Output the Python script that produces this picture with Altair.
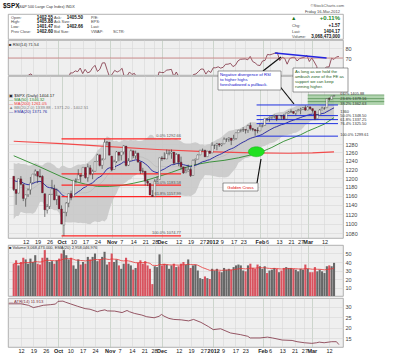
import altair as alt
import pandas as pd

# ---------------- data ----------------
opens = [1203.90, 1173.97, 1165.85, 1197.98, 1185.37, 1153.50, 1162.59, 1173.32, 1189.44, 1209.21,
         1214.99, 1204.50, 1203.63, 1164.55, 1128.82, 1136.91, 1163.32, 1175.39, 1151.74, 1159.93,
         1131.21, 1097.42, 1124.03, 1144.11, 1165.03, 1158.15, 1194.60, 1196.19, 1206.96, 1205.65,
         1224.47, 1200.75, 1223.46, 1209.92, 1215.39, 1238.72, 1254.19, 1229.17, 1243.97, 1284.39,
         1284.96, 1251.00, 1219.62, 1238.25, 1260.82, 1253.21, 1261.12, 1275.18, 1229.59, 1240.12,
         1263.85, 1251.70, 1257.81, 1236.56, 1216.19, 1215.62, 1192.98, 1187.48, 1161.41, 1158.67,
         1192.56, 1196.72, 1246.91, 1246.03, 1244.33, 1257.19, 1258.14, 1260.87, 1234.48, 1255.05,
         1236.83, 1225.73, 1212.12, 1216.09, 1219.74, 1205.72, 1241.25, 1243.72, 1254.00, 1265.02,
         1265.38, 1249.75, 1262.82, 1258.86, 1277.03, 1277.30, 1280.93, 1277.83, 1280.77, 1292.02,
         1292.48, 1294.82, 1290.22, 1293.65, 1308.07, 1314.49, 1315.29, 1315.96, 1314.40, 1326.28,
         1318.25, 1316.16, 1313.53, 1312.45, 1324.24, 1326.21, 1344.32, 1344.33, 1347.04, 1349.97,
         1351.21, 1343.06, 1351.30, 1350.52, 1342.61, 1358.06, 1361.22, 1362.11, 1357.53, 1363.46,
         1365.20, 1367.56, 1372.20, 1365.90, 1374.09, 1369.59, 1363.63, 1343.39, 1352.65, 1365.97,
         1370.78, 1371.92, 1395.95, 1394.17, 1402.55]
highs = [1203.90, 1173.97, 1198.62, 1204.40, 1185.37, 1162.52, 1176.41, 1202.38, 1209.11, 1220.06,
         1214.99, 1220.39, 1206.30, 1164.55, 1141.72, 1164.19, 1195.86, 1184.71, 1175.87, 1159.93,
         1138.99, 1125.12, 1146.07, 1165.55, 1171.40, 1194.91, 1199.24, 1220.25, 1207.46, 1224.61,
         1224.47, 1233.10, 1229.64, 1219.36, 1239.03, 1256.55, 1254.19, 1246.28, 1292.66, 1287.08,
         1284.96, 1251.00, 1242.48, 1263.21, 1260.82, 1261.70, 1277.55, 1275.18, 1246.22, 1266.98,
         1263.85, 1264.25, 1259.61, 1237.73, 1223.51, 1215.62, 1196.81, 1187.48, 1172.66, 1197.35,
         1203.67, 1247.11, 1251.09, 1260.08, 1266.73, 1266.03, 1267.06, 1260.87, 1258.25, 1255.05,
         1249.86, 1225.73, 1225.60, 1231.04, 1224.57, 1242.82, 1245.09, 1255.22, 1265.42, 1269.37,
         1265.85, 1263.54, 1264.12, 1284.62, 1278.73, 1283.05, 1281.84, 1281.99, 1296.46, 1293.80,
         1296.82, 1294.82, 1303.00, 1308.11, 1315.49, 1315.38, 1322.28, 1315.96, 1328.30, 1333.47,
         1320.06, 1316.16, 1321.41, 1330.52, 1329.19, 1345.34, 1344.36, 1349.24, 1351.00, 1354.32,
         1351.21, 1353.35, 1351.30, 1355.87, 1359.02, 1363.40, 1367.76, 1362.70, 1364.24, 1368.92,
         1371.94, 1373.09, 1378.04, 1376.17, 1374.53, 1369.59, 1363.63, 1354.85, 1368.72, 1374.76,
         1373.04, 1396.13, 1399.42, 1402.63, 1405.88]
lows = [1170.60, 1140.13, 1165.85, 1183.34, 1148.37, 1136.07, 1157.44, 1162.73, 1189.44, 1204.46,
        1188.36, 1201.29, 1166.21, 1114.22, 1121.36, 1131.07, 1163.32, 1150.40, 1139.93, 1131.34,
        1098.92, 1074.77, 1115.68, 1134.95, 1150.26, 1158.15, 1187.30, 1196.19, 1190.58, 1205.65,
        1198.55, 1191.48, 1206.31, 1197.34, 1215.39, 1238.72, 1226.79, 1221.06, 1243.97, 1277.01,
        1253.16, 1215.42, 1219.62, 1234.81, 1238.92, 1240.75, 1254.99, 1226.64, 1227.70, 1240.12,
        1246.68, 1244.34, 1235.67, 1209.43, 1211.36, 1183.16, 1181.65, 1161.79, 1158.66, 1158.67,
        1191.80, 1196.72, 1239.73, 1243.35, 1244.33, 1253.03, 1244.80, 1231.47, 1234.48, 1227.25,
        1219.43, 1209.47, 1212.12, 1215.20, 1202.37, 1205.72, 1229.51, 1243.72, 1254.00, 1262.30,
        1248.64, 1249.75, 1257.46, 1258.86, 1268.10, 1265.26, 1273.34, 1274.55, 1280.77, 1285.41,
        1285.77, 1277.58, 1290.22, 1290.99, 1308.07, 1309.17, 1309.89, 1306.06, 1307.65, 1313.60,
        1311.72, 1300.49, 1306.69, 1312.45, 1321.57, 1326.21, 1337.52, 1335.92, 1341.95, 1344.63,
        1337.35, 1343.06, 1340.83, 1340.80, 1341.22, 1357.24, 1358.11, 1355.53, 1352.28, 1363.46,
        1354.92, 1365.97, 1363.81, 1365.90, 1366.42, 1359.13, 1340.03, 1343.39, 1352.65, 1365.97,
        1366.69, 1371.92, 1389.97, 1394.17, 1401.47]
closes = [1173.97, 1165.24, 1198.62, 1185.90, 1154.23, 1162.27, 1172.87, 1188.68, 1209.11, 1216.01,
          1204.09, 1202.09, 1166.76, 1129.56, 1136.43, 1162.95, 1175.38, 1151.06, 1160.40, 1131.42,
          1099.23, 1123.95, 1144.03, 1164.97, 1155.46, 1194.89, 1195.54, 1207.25, 1203.66, 1224.58,
          1200.86, 1225.38, 1209.88, 1215.39, 1238.25, 1254.19, 1229.05, 1242.00, 1284.59, 1285.09,
          1253.30, 1218.28, 1237.90, 1261.15, 1253.23, 1261.12, 1275.92, 1229.10, 1239.69, 1263.85,
          1251.78, 1257.81, 1236.91, 1216.13, 1215.65, 1192.98, 1188.04, 1161.79, 1158.67, 1192.55,
          1195.19, 1246.96, 1244.58, 1244.28, 1257.08, 1258.47, 1261.01, 1234.35, 1255.19, 1236.47,
          1225.73, 1211.82, 1215.75, 1219.66, 1205.35, 1241.30, 1243.72, 1254.00, 1265.33, 1265.43,
          1249.64, 1263.02, 1257.60, 1277.06, 1277.30, 1281.06, 1277.81, 1280.70, 1292.08, 1292.48,
          1295.50, 1289.09, 1293.67, 1308.04, 1314.50, 1315.38, 1316.00, 1314.65, 1326.06, 1318.43,
          1316.33, 1313.01, 1312.41, 1324.09, 1325.54, 1344.90, 1344.33, 1347.05, 1349.96, 1351.95,
          1342.64, 1351.77, 1350.50, 1343.23, 1358.04, 1361.23, 1362.21, 1357.66, 1363.46, 1365.74,
          1367.59, 1372.18, 1365.68, 1374.09, 1369.63, 1364.33, 1343.36, 1352.63, 1365.91, 1370.87,
          1371.09, 1395.95, 1394.28, 1402.60, 1404.17]
# volume in hundred-millions of shares (bar heights)
volumes = [38, 42, 36, 40, 45, 43, 38, 44, 40, 48,
           38, 37, 45, 54, 45, 40, 41, 38, 42, 44,
           50, 54, 48, 43, 45, 36, 32, 43, 37, 40,
           38, 46, 43, 46, 50, 41, 43, 46, 52, 37,
           40, 50, 40, 43, 36, 32, 38, 45, 38, 36,
           31, 33, 39, 42, 38, 41, 36, 32, 14, 35,
           34, 49, 36, 38, 37, 32, 36, 38, 34, 35,
           38, 40, 37, 43, 33, 36, 37, 30, 21, 20,
           23, 21, 20, 32, 30, 32, 29, 28, 33, 31,
           32, 31, 34, 36, 37, 36, 30, 29, 36, 38,
           33, 32, 37, 35, 32, 35, 27, 30, 31, 33,
           32, 28, 30, 33, 34, 33, 33, 32, 31, 29,
           32, 31, 37, 32, 28, 28, 34, 29, 31, 29,
           27, 35, 36, 35, 39]
# closes before the first bar, only used to start the 20-day bands / EMA / RSI
warm_closes = [1339.67, 1337.88, 1339.22, 1353.22, 1343.80, 1319.49, 1313.64, 1317.72, 1308.87, 1316.14,
               1305.44, 1326.73, 1325.84, 1343.80, 1345.02, 1337.43, 1331.94, 1304.89, 1300.67, 1292.28,
               1286.94, 1254.05, 1260.34, 1200.07, 1199.38, 1119.46, 1172.53, 1120.76, 1172.64, 1178.81,
               1204.49, 1192.76, 1193.89, 1140.65, 1123.53, 1123.82, 1162.35, 1177.60, 1159.27, 1176.80,
               1210.08, 1212.92, 1218.89, 1204.42]

ma50_idx = [0, 10, 20, 25, 30, 35, 40, 45, 50, 55, 61, 66, 71, 76, 82, 88, 94, 100, 104, 108, 113, 120, 123, 127, 130, 134]
ma50_val = [1252, 1228, 1203, 1193, 1186, 1181, 1181, 1183, 1188, 1194, 1204, 1213, 1223, 1231, 1237, 1241, 1247,
            1255, 1262, 1272, 1287, 1303, 1312, 1322, 1330, 1346.32]
ma200_idx = [0, 20, 40, 60, 80, 100, 115, 125, 134]
ma200_val = [1287, 1281, 1274, 1267, 1262, 1259, 1258, 1259, 1261.05]

atr_idx = [0, 5, 8, 10, 12, 14, 17, 19, 20, 22, 23, 25, 28, 31, 33, 35, 36, 37, 39, 40, 43, 46, 48, 49, 51, 54,
           56, 59, 61, 62, 63, 65, 67, 70, 73, 75, 78, 81, 83, 86, 90, 94, 97, 98, 102, 105, 107, 111, 115, 117,
           120, 123, 125, 126, 128, 131, 133, 134]
atr_val = [31.5, 31.5, 30.8, 29.7, 30.2, 30.8, 31.1, 31.4, 32.7, 32.8, 32.3, 31.5, 30.3, 29.2, 28.9, 28.1, 27.7,
           28.1, 28.6, 28.1, 28.0, 27.3, 28.3, 27.7, 26.9, 26.1, 25.3, 24.8, 25.5, 26.4, 25.6, 24.5, 24.0, 23.8,
           23.3, 24.0, 22.6, 20.6, 19.1, 19.5, 17.5, 16.7, 15.9, 15.1, 15.1, 15.5, 15.1, 14.1, 13.9, 13.3, 12.8,
           12.5, 12.8, 13.1, 12.8, 13.3, 13.3, 11.91]

tick_idx = [5, 10, 15, 20, 25, 30, 35, 41, 45, 50, 55, 59, 62, 69, 74, 79, 83, 87, 92, 96, 103, 106, 111, 116, 120, 123, 130]
tick_lbl = ["12", "19", "26", "Oct", "10", "17", "24", "Nov", "7", "14", "21", "28", "Dec", "12", "19", "27",
            "2012", "9", "17", "23", "Feb", "6", "13", "21", "27", "Mar", "12"]
month_idx = [20, 41, 62, 83, 103, 123]

price_ticks = [1080, 1100, 1120, 1140, 1160, 1180, 1200, 1220, 1240, 1260, 1280]
red_fib_lbl = ["0.0% 1292.66", "38.2% 1209.43", "50.0% 1183.58", "61.8% 1157.99", "100.0% 1074.77"]
red_fib_val = [1292.66, 1209.43, 1183.72, 1157.99, 1074.77]
red_fib_show = [True, False, True, True, True]
blue_fib_val = [1379.16, 1351.5, 1341.2, 1331.0, 1299.61]
zone_val = [1405.88, 1396.0, 1388.0]
# labels stacked at the right edge of the price panel (text, label price position)
side_lbl = ["0.0% 1405.88", "23.6% 1379.16", "38.2% 1362.63", "1360", "50.0% 1348.50", "61.8% 1337.25",
            "76.4% 1325.50", "100.0% 1299.61"]
side_pos = [1408.5, 1395.5, 1382.5, 1361.5, 1351.5, 1340.5, 1329.5, 1302.0]

# ---------------- derived indicators ----------------
N = len(closes)
K = len(warm_closes)
allc = pd.Series(warm_closes + closes, dtype=float)
sma20 = allc.rolling(20).mean().iloc[K:].to_numpy()
sd20 = allc.rolling(20).std(ddof=0).iloc[K:].to_numpy()
ema20 = allc.ewm(span=20, adjust=False).mean().iloc[K:].to_numpy()
dlt = allc.diff()
ag = dlt.clip(lower=0).ewm(alpha=1 / 14, adjust=False).mean()
al = (-dlt.clip(upper=0)).ewm(alpha=1 / 14, adjust=False).mean()
rsi = (100 - 100 / (1 + ag / al)).iloc[K:].to_numpy()
prev = [warm_closes[-1]] + closes[:-1]

df = pd.DataFrame({"i": list(range(N)), "o": opens, "h": highs, "l": lows, "c": closes, "v": volumes,
                   "ema": ema20, "bbu": sma20 + 2 * sd20, "bbl": sma20 - 2 * sd20, "bbm": sma20, "rsi": rsi})
df["body"] = ["up" if c >= o else "dn" for o, c in zip(opens, closes)]
df["vdir"] = ["up" if c >= p else "dn" for c, p in zip(closes, prev)]
df["vma"] = pd.Series(volumes, dtype=float).ewm(span=20, adjust=False).mean()

ma50 = pd.DataFrame({"i": ma50_idx, "m": ma50_val})
ma200 = pd.DataFrame({"i": ma200_idx, "m": ma200_val})
atr = pd.DataFrame({"i": atr_idx, "a": atr_val})

# ---------------- layout constants ----------------
W, H_HDR, H_RSI, H_MAIN, H_VOL, H_ATR = 335, 25, 35, 162, 51, 49
XDOM = [-0.3, 135.66]
FONT = "Liberation Sans"
ONE = pd.DataFrame({"k": [0]})

lbl_expr = "".join(f"datum.value=={i}?'{t}':" for i, t in zip(tick_idx, tick_lbl)) + "''"
month_test = "indexof([" + ",".join(map(str, month_idx)) + "], datum.value) >= 0"
XS = alt.Scale(domain=XDOM, nice=False, zero=False)


def xaxis(labels):
    return alt.Axis(values=tick_idx, labelExpr=lbl_expr, labels=labels, ticks=False, domain=False, grid=True,
                    gridColor={"condition": {"test": month_test, "value": "#b4c2b4"}, "value": "#d6d6d6"},
                    gridWidth=0.6, labelFont=FONT, labelFontSize=5.5, labelColor="#222",
                    labelFontWeight={"condition": {"test": month_test, "value": "bold"}, "value": "normal"},
                    labelPadding=1.5, labelOverlap=False, labelFlush=False, title=None)


def yaxis(vals):
    return alt.Axis(orient="right", values=vals, format="d", ticks=False, domain=False, grid=True,
                    gridColor="#d6d6d6", gridWidth=0.6, labelPadding=2, title=None,
                    labelFont=FONT, labelFontSize=5.5, labelColor="#444", labelOverlap=False)


def enc_factory(yscale, yvals, xlabels=False):
    xa = xaxis(xlabels)
    ya = yaxis(yvals)

    def XE(field="i"):
        return alt.X(f"{field}:Q", scale=XS, axis=xa)

    def YE(field):
        return alt.Y(f"{field}:Q", scale=yscale, axis=ya)
    return XE, YE


def px_text(rows, size=4.2, color="#333", weight="normal", align="left"):
    layers = []
    for x, y, t in rows:
        layers.append(alt.Chart(ONE).mark_text(text=t, align=align, baseline="alphabetic", font=FONT,
                                               fontSize=size, color=color, fontWeight=weight, clip=False).encode(
            x=alt.value(x), y=alt.value(y)))
    return alt.layer(*layers)


def px_rule(x1, y1, x2, y2, color="#000", w=1.0):
    return alt.Chart(ONE).mark_rule(color=color, strokeWidth=w, clip=False).encode(
        x=alt.value(x1), y=alt.value(y1), x2=alt.value(x2), y2=alt.value(y2))


def px_box(x1, y1, x2, y2, fill="white", stroke="#555", w=0.6):
    return alt.Chart(ONE).mark_rect(fill=fill, stroke=stroke, strokeWidth=w, clip=False).encode(
        x=alt.value(x1), y=alt.value(y1), x2=alt.value(x2), y2=alt.value(y2))


PANEL_VIEW = alt.ViewBackground(fill="#efefef", stroke="#a0a0a0", strokeWidth=0.8)


def spacer(h):
    return alt.Chart(ONE).mark_point(opacity=0).encode(x=alt.value(0), y=alt.value(0)).properties(
        width=W, height=h, view=alt.ViewBackground(fill="transparent", stroke="transparent"))


# ---------------- header ----------------
hdr = alt.layer(
    px_text([[-5, -6, "$SPX"]], size=6.5, color="#111", weight="bold"),
    px_text([[10, -6.3, "(S&P 500 Large Cap Index) INDX"]], size=3.8, color="#333"),
    px_text([[336, -7.5, "\u00a9StockCharts.com"]], size=4.0, color="#555", align="right"),
    px_text([[3, 4.5, "Open:"], [3, 9.2, "High:"], [3, 13.8, "Low:"], [3, 18.5, "Prev Close:"],
             [46, 4.5, "Ask:"], [46, 9.2, "Ask Size:"], [46, 13.8, "Bid:"], [46, 18.5, "Bid Size:"],
             [83, 4.5, "P/E:"], [83, 9.2, "EPS:"], [83, 13.8, "Last:"], [83, 18.5, "VWAP:"], [105, 18.5, "SCTR:"],
             [284, 12.5, "Chg:"], [284, 18.5, "Last:"], [284, 24.0, "Volume:"]], size=3.9, color="#444"),
    px_text([[45, 4.5, "1402.55"], [45, 9.2, "1405.88"], [45, 13.8, "1401.47"], [45, 18.5, "1402.60"],
             [75, 4.5, "1405.50"], [75, 13.8, "1402.66"],
             [332, 12.5, "+1.57"], [332, 18.5, "1404.17"], [332, 24.0, "3,068,473,000"]],
            size=4.5, color="#111", weight="bold", align="right"),
    px_text([[332, -1.5, "Friday 16-Mar-2012"]], size=4.0, color="#444", align="right"),
    px_text([[332, 5.5, "+0.11%"]], size=6.0, color="#1f8a1f", weight="bold", align="right"),
    px_text([[283, 6.0, "\u25b2"]], size=5.5, color="#1f7a1f", align="left"),
).properties(width=W, height=H_HDR, view=alt.ViewBackground(fill="white", stroke="#a0a0a0", strokeWidth=0.8))

# ---------------- RSI panel ----------------
RSI_S = alt.Scale(domain=[53, 88], nice=False, zero=False)
XR, YR = enc_factory(RSI_S, [70, 80])
rsi_base = alt.Chart(df).mark_line(color="#7d2e40", strokeWidth=0.8, clip=True).encode(x=XR(), y=YR("rsi"))
rsi_70 = alt.Chart(pd.DataFrame({"i": [0], "r": [70]})).mark_rule(color="#c87878", strokeWidth=0.8).encode(
    y=YR("r"))
div_line = alt.Chart(pd.DataFrame({"i": [108], "i2": [129], "r": [75.0], "r2": [70.0]})).mark_rule(
    color="#2424e0", strokeWidth=1.3).encode(x=XR("i"), x2="i2:Q", y=YR("r"), y2="r2:Q")
rsi_lbl = px_text([[1, 5.5, "\u25a0 RSI(14) 71.54"]], size=4.2, color="#333")
rsi_panel = alt.layer(rsi_base, rsi_70, div_line, rsi_lbl).properties(width=W, height=H_RSI, view=PANEL_VIEW)

# ---------------- main price panel ----------------
YS = alt.Scale(type="log", domain=[1070.4, 1457.4], nice=False, zero=False)
XM, YM = enc_factory(YS, price_ticks, True)

bb = alt.Chart(df).mark_area(color="#c9c9c9", opacity=0.9).encode(x=XM(), y=YM("bbl"), y2="bbu:Q")
bbm = alt.Chart(df).mark_line(color="#b2b2b2", strokeWidth=0.5).encode(x=XM(), y=YM("bbm"))

zone = alt.Chart(pd.DataFrame({"i": [123], "i2": [155], "p": [1379.16], "p2": [1405.88]})).mark_rect(
    fill="#9dc99b", opacity=0.8, clip=False).encode(x=XM("i"), x2="i2:Q", y=YM("p"), y2="p2:Q")
zone_lines = alt.Chart(pd.DataFrame({"i": [123] * 3, "i2": [155] * 3, "p": zone_val})).mark_rule(
    color="#3f7f3f", strokeWidth=0.6, clip=False).encode(x=XM("i"), x2="i2:Q", y=YM("p"))

l_ma200 = alt.Chart(ma200).mark_line(color="#f24a4a", strokeWidth=1.2).encode(x=XM("i"), y=YM("m"))
l_ma50 = alt.Chart(ma50).mark_line(color="#2e8b2e", strokeWidth=0.9).encode(x=XM("i"), y=YM("m"))
l_ema = alt.Chart(df).mark_line(color="#22229e", strokeWidth=0.9).encode(x=XM("i"), y=YM("ema"))

rf = pd.DataFrame({"i": [20] * 5, "i2": [70] * 5, "p": red_fib_val, "t": red_fib_lbl, "s": red_fib_show})
red_rules = alt.Chart(rf).mark_rule(color="#ff2626", strokeWidth=1.2).encode(x=XM("i"), x2="i2:Q", y=YM("p"))
red_text = alt.Chart(rf[rf.s]).mark_text(align="right", dy=-2.5, font=FONT, fontSize=4.0, color="#555").encode(
    x=XM("i2"), y=YM("p"), text="t:N")

bf = pd.DataFrame({"i": [101.6] * 5, "i2": [135.66] * 5, "p": blue_fib_val})
blue_rules = alt.Chart(bf).mark_rule(color="#1f30e0", strokeWidth=1.0).encode(x=XM("i"), x2="i2:Q", y=YM("p"))
sf = pd.DataFrame({"ix": [136.6] * len(side_lbl), "p": side_pos, "t": side_lbl})
side_text = alt.Chart(sf).mark_text(align="left", baseline="middle", font=FONT, fontSize=3.9, color="#333",
                                    clip=False).encode(x=XM("ix"), y=YM("p"), text="t:N")

wick = alt.Chart(df).mark_rule(color="#2c2c2c", strokeWidth=0.6).encode(x=XM("i"), y=YM("l"), y2="h:Q")
body = alt.Chart(df).mark_bar(size=1.8, stroke="#2c2c2c", strokeWidth=0.35).encode(
    x=XM("i"), y=YM("o"), y2="c:Q",
    fill=alt.Fill("body:N", scale=alt.Scale(domain=["up", "dn"], range=["#ffffff", "#990f2c"]), legend=None))

gc = alt.Chart(pd.DataFrame({"i": [101.5], "p": [1261.5]})).mark_point(
    shape="M-1,0A1,0.62,0,1,0,1,0A1,0.62,0,1,0,-1,0Z", size=256, filled=True, fill="#1fe01f",
    stroke="#18b018", strokeWidth=0.5, opacity=1).encode(x=XM("i"), y=YM("p"))

legend_main = alt.layer(
    px_text([[1, 20.5, "\u25a3 $SPX (Daily) 1404.17"]], size=4.2, color="#222"),
    px_text([[1, 24.5, "\u2014 MA(50) 1346.32"]], size=4.2, color="#2e8b2e"),
    px_text([[1, 29.0, "\u2014 MA(200) 1261.05"]], size=4.2, color="#f03a3a"),
    px_text([[1, 33.0, "\u25b2 BB(20,2.0) 1339.88 - 1371.20 - 1402.51"]], size=4.2, color="#808080"),
    px_text([[1, 37.0, "\u2014 EMA(20) 1371.76"]], size=4.2, color="#2a2aa0"),
)

callouts = alt.layer(
    px_rule(255, -5, 273, -19, "#111", 1.2),
    px_rule(270, 8, 286, 28, "#111", 1.2),
    px_rule(249, 107, 253, 83, "#111", 1.2),
    px_box(210, -5, 273, 14),
    px_text([[212, -0.5, "Negative divergence of RSI"], [212, 4.5, "to higher highs"],
             [212, 9.5, "foreshadowed a pullback."]], size=4.2, color="#1515cc"),
    px_box(285, -8, 340, 16),
    px_text([[287, -3, "As long as we hold the"], [287, 2, "ambush zone of the FE as"],
             [287, 7, "support we can keep"], [287, 12, "running higher."]], size=4.2, color="#1b5e20"),
    px_box(215, 107, 250, 115),
    px_text([[232.5, 113, "Golden Cross"]], size=4.3, color="#e00000", align="center"),
)

main_panel = alt.layer(bb, bbm, zone, zone_lines, l_ma200, l_ma50, l_ema, red_rules, blue_rules, wick, body,
                       gc, red_text, side_text, legend_main, callouts).properties(
    width=W, height=H_MAIN, view=PANEL_VIEW)

# ---------------- volume panel ----------------
VS = alt.Scale(domain=[0, 60], nice=False, zero=True)
XV, YV = enc_factory(VS, [10, 20, 30, 40, 50])
vol = alt.Chart(df).mark_bar(size=2.1).encode(
    x=XV(), y=YV("v"),
    color=alt.Color("vdir:N", scale=alt.Scale(domain=["up", "dn"], range=["#676767", "#d8525e"]), legend=None))
vma = alt.Chart(df).mark_line(color="#e83636", strokeWidth=0.8).encode(x=XV(), y=YV("vma"))
vol_lbl = px_text([[1, 4.0, "\u25a0 Volume 3,068,473,000, EMA(20) 2,958,046,976"]], size=4.0, color="#333")
vol_panel = alt.layer(vol, vma, vol_lbl).properties(width=W, height=H_VOL, view=PANEL_VIEW)

# ---------------- ATR panel ----------------
AS = alt.Scale(domain=[10.75, 34.3], nice=False, zero=False)
XA, YA = enc_factory(AS, [15, 20, 25, 30], True)
atr_line = alt.Chart(atr).mark_line(color="#7d2e40", strokeWidth=0.8).encode(x=XA(), y=YA("a"))
atr_lbl = px_text([[1, 4.5, "\u2014 ATR(14) 11.913"]], size=4.2, color="#7d2e40")
atr_panel = alt.layer(atr_line, atr_lbl).properties(width=W, height=H_ATR, view=PANEL_VIEW)

chart = alt.vconcat(hdr, spacer(1), rsi_panel, spacer(1), main_panel, spacer(7), vol_panel, spacer(2), atr_panel,
                    spacing=0, bounds="flush").resolve_scale(
    x="independent", y="independent", fill="independent", color="independent"
).properties(
    padding={"left": 2, "top": 2, "right": 0, "bottom": 0},
    background="white",
).configure_axis(labelFont=FONT)

chart.save("out.html", embed_options={"renderer": "svg", "actions": False})
